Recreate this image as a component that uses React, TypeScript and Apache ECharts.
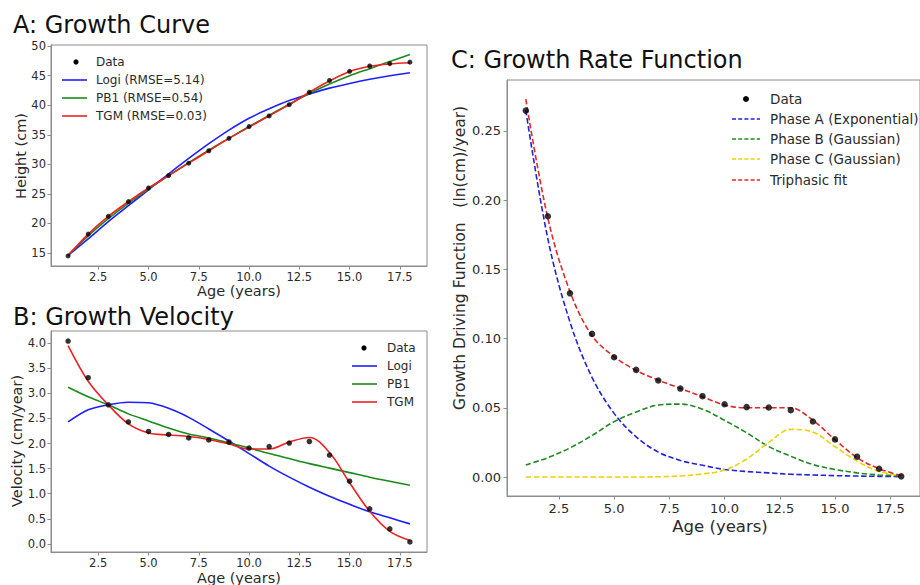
import React, { useEffect, useRef } from "react";
import * as echarts from "echarts";

// ---------- data ----------
const ages = [1, 2, 3, 4, 5, 6, 7, 8, 9, 10, 11, 12, 13, 14, 15, 16, 17, 18];
const xTickValues = [2.5, 5, 7.5, 10, 12.5, 15, 17.5];

// Panel A: height (cm)
const heightData = [14.5, 18.2, 21.2, 23.7, 26.0, 28.1, 30.2, 32.3, 34.4, 36.4, 38.2, 40.1, 42.2, 44.2, 45.75, 46.65, 47.05, 47.3];
const heightLogi = [14.6, 17.4, 20.3, 23.0, 25.7, 28.4, 31.0, 33.5, 35.8, 37.8, 39.4, 40.8, 41.9, 42.9, 43.7, 44.4, 45.0, 45.5];
const heightPB1 = [14.6, 17.9, 20.8, 23.4, 25.8, 28.1, 30.3, 32.4, 34.4, 36.4, 38.3, 40.2, 42.0, 43.6, 45.0, 46.2, 47.4, 48.6];
const heightTGM = [14.6, 18.2, 21.2, 23.7, 26.0, 28.1, 30.2, 32.3, 34.4, 36.3, 38.2, 40.1, 42.2, 44.1, 45.7, 46.6, 47.0, 47.2];
const heightTicks = [15, 20, 25, 30, 35, 40, 45, 50];

// Panel B: velocity (cm/year)
const velData = [4.04, 3.31, 2.77, 2.43, 2.24, 2.18, 2.11, 2.07, 2.03, 1.91, 1.94, 2.01, 2.04, 1.77, 1.25, 0.70, 0.30, 0.04];
const velLogi = [2.43, 2.67, 2.77, 2.82, 2.81, 2.70, 2.52, 2.29, 2.05, 1.80, 1.55, 1.33, 1.13, 0.95, 0.79, 0.64, 0.52, 0.40];
const velPB1 = [3.12, 2.93, 2.77, 2.59, 2.45, 2.31, 2.19, 2.11, 2.01, 1.91, 1.80, 1.70, 1.60, 1.51, 1.42, 1.33, 1.25, 1.17];
const velTGM = [3.95, 3.24, 2.77, 2.39, 2.21, 2.17, 2.14, 2.08, 1.99, 1.89, 1.89, 2.03, 2.12, 1.82, 1.22, 0.65, 0.25, 0.07];
const velTicks = [0, 0.5, 1, 1.5, 2, 2.5, 3, 3.5, 4];

// Panel C: growth driving function (ln(cm)/year)
const rateData = [0.2647, 0.1884, 0.1327, 0.1034, 0.0865, 0.0774, 0.0697, 0.0639, 0.0584, 0.0526, 0.0505, 0.0502, 0.0483, 0.0401, 0.0272, 0.0147, 0.0060, 0.0005];
const phaseA = [0.265, 0.172, 0.112, 0.072, 0.046, 0.029, 0.018, 0.012, 0.0085, 0.0055, 0.004, 0.003, 0.002, 0.0015, 0.001, 0.0007, 0.0005, 0.0003];
const phaseB = [0.0087, 0.014, 0.021, 0.030, 0.040, 0.047, 0.052, 0.0527, 0.049, 0.041, 0.032, 0.022, 0.015, 0.009, 0.0055, 0.003, 0.0015, 0.0008];
const phaseC = [0, 0, 0, 0, 0, 0, 0.0002, 0.0008, 0.0022, 0.005, 0.013, 0.025, 0.0344, 0.0325, 0.022, 0.0115, 0.004, 0.001];
const triphasic = [0.273, 0.187, 0.134, 0.102, 0.087, 0.077, 0.070, 0.064, 0.058, 0.052, 0.050, 0.050, 0.050, 0.041, 0.027, 0.014, 0.006, 0.001];
const rateTicks = [0, 0.05, 0.1, 0.15, 0.2, 0.25];

// ---------- styling ----------
const FONT = "DejaVu Sans";
const FRAME = "#8c8c8c";
const TEXT = "#2a2a2a";
const BLUE = "#1e1eff";
const GREEN = "#1a8a1a";
const RED = "#ee2222";
const YELLOW = "#ecd400";
const DASH = [5.5, 2.6];

const pairs = (ys: number[]) => ages.map((a, i) => [a, ys[i]]);

function xAxisCfg(gridIndex: number, fontSize: number, margin: number) {
  return {
    type: "value",
    gridIndex,
    min: 0.15,
    max: 18.85,
    axisLine: { show: true, onZero: false, lineStyle: { color: FRAME, width: 1 } },
    axisTick: { show: true, length: 3.5, customValues: xTickValues, lineStyle: { color: FRAME } },
    axisLabel: {
      customValues: xTickValues,
      formatter: (v: number) => v.toFixed(1),
      color: TEXT,
      fontSize,
      fontFamily: FONT,
      margin,
    },
    splitLine: { show: false },
  };
}

function yAxisCfg(gridIndex: number, min: number, max: number, ticks: number[], digits: number, fontSize: number, margin: number) {
  return {
    type: "value",
    gridIndex,
    min,
    max,
    axisLine: { show: true, onZero: false, lineStyle: { color: FRAME, width: 1 } },
    axisTick: { show: true, length: 3.5, customValues: ticks, lineStyle: { color: FRAME } },
    axisLabel: {
      customValues: ticks,
      formatter: (v: number) => v.toFixed(digits),
      color: TEXT,
      fontSize,
      fontFamily: FONT,
      margin,
    },
    splitLine: { show: false },
  };
}

function lineSeries(name: string, ys: number[], color: string, idx: number, dashed = false, smooth: number = 0.3) {
  return {
    name,
    type: "line",
    xAxisIndex: idx,
    yAxisIndex: idx,
    data: pairs(ys),
    smooth,
    showSymbol: false,
    symbol: "none",
    lineStyle: { color, width: 1.6, type: dashed ? DASH : "solid" },
    z: 3,
  };
}

function dotSeries(ys: number[], idx: number, size: number) {
  return {
    name: "Data",
    type: "scatter",
    xAxisIndex: idx,
    yAxisIndex: idx,
    data: pairs(ys),
    symbol: "circle",
    symbolSize: size,
    itemStyle: { color: "#000" },
    z: 4,
  };
}

function txt(text: string, x: number, y: number, fontSize: number, opts: any = {}) {
  const align = opts.align || "left";
  return {
    type: "text",
    x,
    y,
    rotation: opts.rotation || 0,
    style: {
      text,
      fontSize,
      fontFamily: FONT,
      fill: opts.fill || TEXT,
      align,
      verticalAlign: "middle",
      textAlign: align,
      textVerticalAlign: "middle",
    },
    z: 10,
  };
}

function legendLine(x1: number, x2: number, y: number, color: string, dashed = false) {
  return {
    type: "line",
    shape: { x1, y1: y, x2, y2: y },
    style: { stroke: color, lineWidth: 1.6, lineDash: dashed ? [4, 2.2] : null },
    z: 10,
  };
}

function legendDot(cx: number, cy: number, r: number) {
  return { type: "circle", shape: { cx, cy, r }, style: { fill: "#000" }, z: 10 };
}

export default function App() {
  const ref = useRef<HTMLDivElement>(null);

  useEffect(() => {
    if (!ref.current) return;
    const chart = echarts.init(ref.current, undefined, { renderer: "svg" });

    const option: any = {
      animation: false,
      backgroundColor: "#ffffff",
      textStyle: { fontFamily: FONT },
      grid: [
        { left: 51, top: 45, width: 376, height: 221, show: true, borderColor: FRAME, borderWidth: 1, backgroundColor: "transparent" },
        { left: 51, top: 331, width: 376, height: 221, show: true, borderColor: FRAME, borderWidth: 1, backgroundColor: "transparent" },
        { left: 507, top: 80, width: 429, height: 416, show: true, borderColor: FRAME, borderWidth: 1, backgroundColor: "transparent" },
      ],
      xAxis: [xAxisCfg(0, 11.5, 5), xAxisCfg(1, 11.5, 5), xAxisCfg(2, 13, 6)],
      yAxis: [
        yAxisCfg(0, 12.8, 50.2, heightTicks, 0, 11.5, 5),
        yAxisCfg(1, -0.16, 4.24, velTicks, 1, 11.5, 5),
        yAxisCfg(2, -0.0137, 0.2868, rateTicks, 2, 13, 6),
      ],
      series: [
        dotSeries(heightData, 0, 5),
        lineSeries("Logi (RMSE=5.14)", heightLogi, BLUE, 0),
        lineSeries("PB1 (RMSE=0.54)", heightPB1, GREEN, 0),
        lineSeries("TGM (RMSE=0.03)", heightTGM, RED, 0),

        lineSeries("Logi", velLogi, BLUE, 1),
        lineSeries("PB1", velPB1, GREEN, 1),
        lineSeries("TGM", velTGM, RED, 1, false, 0.35),
        dotSeries(velData, 1, 5.5),

        lineSeries("Phase A (Exponential)", phaseA, "#2222dd", 2, true, 0.35),
        lineSeries("Phase B (Gaussian)", phaseB, "#1f8a1f", 2, true, 0.35),
        lineSeries("Phase C (Gaussian)", phaseC, YELLOW, 2, true, 0.35),
        lineSeries("Triphasic fit", triphasic, "#e02a2a", 2, true, 0.35),
        dotSeries(rateData, 2, 6.5),
      ],
      graphic: [
        // titles
        txt("A: Growth Curve", 13, 25, 24, { fill: "#111" }),
        txt("B: Growth Velocity", 13, 317, 24, { fill: "#111" }),
        txt("C: Growth Rate Function", 451, 60, 24, { fill: "#111" }),
        // axis names
        txt("Height (cm)", 21, 156, 14.5, { align: "center", rotation: Math.PI / 2 }),
        txt("Age (years)", 239, 291, 14.5, { align: "center" }),
        txt("Velocity (cm/year)", 17, 441, 14.5, { align: "center", rotation: Math.PI / 2 }),
        txt("Age (years)", 239, 578, 14.5, { align: "center" }),
        txt("Growth Driving Function   (ln(cm)/year)", 460, 258, 15.5, { align: "center", rotation: Math.PI / 2 }),
        txt("Age (years)", 720, 526, 16.5, { align: "center" }),
        // legend A
        legendDot(76, 62, 2.6),
        txt("Data", 96, 62, 12),
        legendLine(62, 87, 80, BLUE),
        txt("Logi (RMSE=5.14)", 96, 80, 12),
        legendLine(62, 87, 98, GREEN),
        txt("PB1 (RMSE=0.54)", 96, 98, 12),
        legendLine(62, 87, 116, RED),
        txt("TGM (RMSE=0.03)", 96, 116, 12),
        // legend B
        legendDot(364, 348, 2.6),
        txt("Data", 387, 348, 12),
        legendLine(352, 377, 366, BLUE),
        txt("Logi", 387, 366, 12),
        legendLine(352, 377, 384, GREEN),
        txt("PB1", 387, 384, 12),
        legendLine(352, 377, 402, RED),
        txt("TGM", 387, 402, 12),
        // legend C
        legendDot(746, 99, 3),
        txt("Data", 770, 99, 13.5),
        legendLine(732, 760, 119, "#2222dd", true),
        txt("Phase A (Exponential)", 770, 119, 13.5),
        legendLine(732, 760, 139, "#1f8a1f", true),
        txt("Phase B (Gaussian)", 770, 139, 13.5),
        legendLine(732, 760, 159, YELLOW, true),
        txt("Phase C (Gaussian)", 770, 159, 13.5),
        legendLine(732, 760, 180, "#e02a2a", true),
        txt("Triphasic fit", 770, 180, 13.5),
      ],
    };

    chart.setOption(option);
    return () => {
      chart.dispose();
    };
  }, []);

  return (
    <div
      ref={ref}
      style={{ position: "fixed", left: 0, top: 0, width: 920, height: 585, background: "#fff" }}
    />
  );
}
